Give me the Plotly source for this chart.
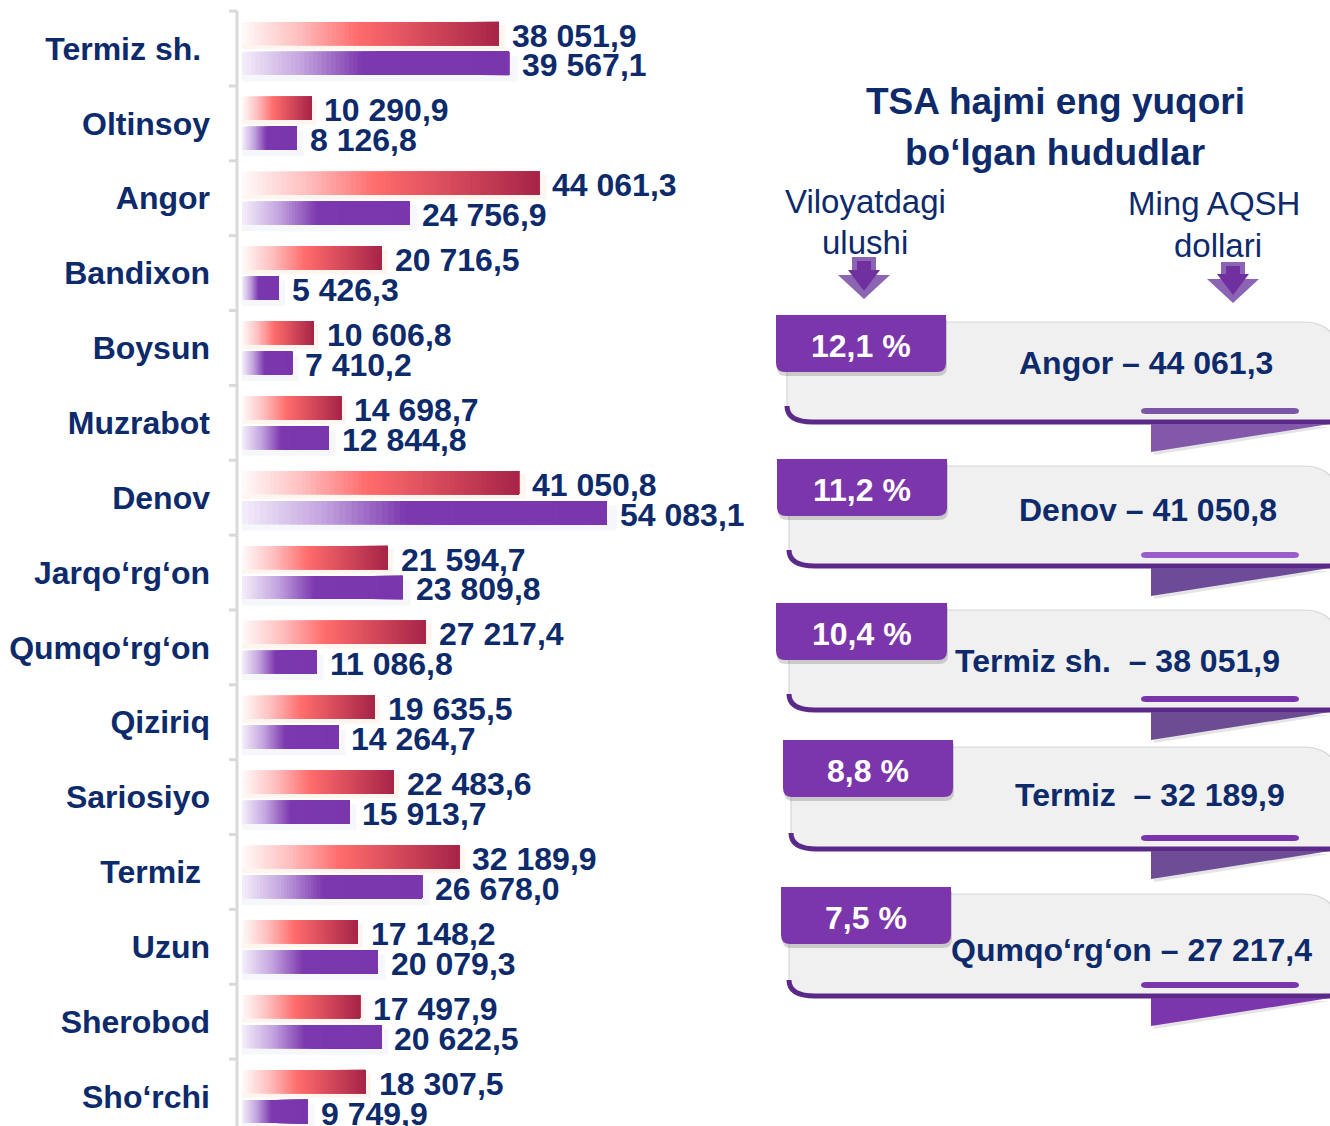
import plotly.graph_objects as go

# ---------------- data ----------------
categories = ["Termiz sh.\u00a0", "Oltinsoy", "Angor", "Bandixon", "Boysun", "Muzrabot", "Denov",
              "Jarqo‘rg‘on", "Qumqo‘rg‘on", "Qiziriq", "Sariosiyo", "Termiz\u00a0", "Uzun",
              "Sherobod", "Sho‘rchi"]
series_red = [38051.9, 10290.9, 44061.3, 20716.5, 10606.8, 14698.7, 41050.8, 21594.7,
              27217.4, 19635.5, 22483.6, 32189.9, 17148.2, 17497.9, 18307.5]
series_purple = [39567.1, 8126.8, 24756.9, 5426.3, 7410.2, 12844.8, 54083.1, 23809.8,
                 11086.8, 14264.7, 15913.7, 26678.0, 20079.3, 20622.5, 9749.9]

title_lines = ["TSA hajmi eng yuqori", "bo‘lgan hududlar"]
share_header = ["Viloyatdagi", "ulushi"]
value_header = ["Ming AQSH", "dollari"]
top_regions = ["Angor", "Denov", "Termiz sh.\u00a0", "Termiz\u00a0", "Qumqo‘rg‘on"]
top_values = [44061.3, 41050.8, 38051.9, 32189.9, 27217.4]
top_shares = [12.1, 11.2, 10.4, 8.8, 7.5]

# ---------------- style ----------------
NAVY = "#0d2a6b"
FONT = "Liberation Sans, Arial, sans-serif"
W, H = 1330, 1126

red_stops = [(0.0, (255, 250, 250)), (0.22, (255, 190, 190)), (0.45, (255, 108, 108)), (1.0, (166, 36, 72))]
pur_stops = [(0.0, (244, 238, 250)), (0.22, (196, 165, 224)), (0.45, (124, 56, 174)), (1.0, (122, 54, 172))]


def grad(stops, t):
    for (t0, c0), (t1, c1) in zip(stops[:-1], stops[1:]):
        if t <= t1:
            u = (t - t0) / (t1 - t0) if t1 > t0 else 0
            c = [round(a + (b - a) * u) for a, b in zip(c0, c1)]
            return "rgb(%d,%d,%d)" % tuple(c)
    return "rgb(%d,%d,%d)" % stops[-1][1]


def fmt(v):
    return f"{v:,.1f}".replace(",", " ").replace(".", ",")


fig = go.Figure()
n = len(categories)
pos = list(range(n))
y_red = [k - 0.2 for k in pos]
y_pur = [k + 0.2 for k in pos]
BW = 0.31

# soft shadows
fig.add_bar(x=[v * 1.01 + 600 for v in series_red], y=[y + 0.05 for y in y_red], orientation="h",
            width=BW + 0.02, marker=dict(color="rgba(250,210,180,0.22)", line_width=0),
            hoverinfo="skip", showlegend=False)
fig.add_bar(x=[v * 1.01 + 900 for v in series_purple], y=[y + 0.07 for y in y_pur], orientation="h",
            width=BW + 0.03, marker=dict(color="rgba(215,222,240,0.25)", line_width=0),
            hoverinfo="skip", showlegend=False)

# gradient bars built from overlapping segments
N = 60
for stops, vals, ys in ((red_stops, series_red, y_red), (pur_stops, series_purple, y_pur)):
    for j in range(N):
        f0 = j / N
        fig.add_bar(x=[v * (1 - f0) for v in vals], base=[v * f0 for v in vals], y=ys,
                    orientation="h", width=BW,
                    marker=dict(color=grad(stops, f0 + 0.5 / N), line_width=0),
                    hoverinfo="skip", showlegend=False)

# value labels
for vals, ys in ((series_red, y_red), (series_purple, y_pur)):
    for v, y in zip(vals, ys):
        fig.add_annotation(x=v, y=y, xref="x", yref="y", text=fmt(v), showarrow=False,
                           xanchor="left", yanchor="middle", xshift=11, yshift=-2,
                           font=dict(family=FONT, size=32, color=NAVY, weight="bold"))

# left axis line and boundary ticks
AX = 237
shapes = []
shapes.append(dict(type="line", xref="paper", yref="y", x0=AX / W, x1=AX / W, y0=-0.5, y1=n - 0.5 + 1,
                   line=dict(color="#d9d9d9", width=3), layer="below"))
for k in range(n + 1):
    shapes.append(dict(type="line", xref="paper", yref="y", x0=(AX - 8) / W, x1=AX / W,
                       y0=k - 0.5, y1=k - 0.5, line=dict(color="#d9d9d9", width=3), layer="below"))

# ---------------- right panel (pixel coordinate axes) ----------------
def P(d, **kw):
    s = dict(type="path", path=d, xref="x2", yref="y2", line=dict(width=0))
    s.update(kw)
    return s


def arrow(cx, t, b):
    outer = (f"M{cx-12},{t} L{cx+12},{t} L{cx+12},{b-24} L{cx+26},{b-24} L{cx},{b} "
             f"L{cx-26},{b-24} L{cx-12},{b-24} Z")
    inner = (f"M{cx-7},{t+4} L{cx+7},{t+4} L{cx+7},{b-29} L{cx+16},{b-29} L{cx},{b-8} "
             f"L{cx-16},{b-29} L{cx-7},{b-29} Z")
    return [P(outer, fillcolor="#8c64b4"), P(inner, fillcolor="#7030a0")]


shapes += arrow(864, 257, 299)
shapes += arrow(1233, 262, 303)

tab_top = [315, 459, 603, 740, 887]
tab_x = [(776, 946), (777, 947), (776, 947), (783, 953), (781, 951)]
card_left = [787, 789, 789, 791, 789]
card_bottom = [422, 566, 710, 849, 996]
text_cx = [1146, 1148, 1117, 1150, 1131]
text_cy = [363, 510, 661, 795, 950]
ul_col = ["#7d55a8", "#9b5ccb", "#7a35ad", "#7a35ad", "#7a35ad"]
tri_col = ["#8358aa", "#6e4b98", "#6d4c93", "#6f4d96", "#7b35ad"]
R = 1338

for i in range(len(top_regions)):
    tt = tab_top[i]
    tx0, tx1 = tab_x[i]
    cl = card_left[i]
    ct = tt + 7
    cb = card_bottom[i]
    body = (f"M{cl},{ct} L{R-35},{ct} Q{R},{ct} {R},{ct+35} L{R},{cb} L{cl+26},{cb} "
            f"Q{cl},{cb} {cl},{cb-16} Z")
    shapes.append(P(body, fillcolor="#f0f0f0", line=dict(color="#d6d6d6", width=1.2)))
    stroke = f"M{cl},{cb-16} Q{cl},{cb} {cl+26},{cb} L{R},{cb}"
    shapes.append(P(stroke, fillcolor="rgba(0,0,0,0)", line=dict(color="#5b2a88", width=5)))
    shapes.append(P(f"M1154,{cb+5} L1330,{cb+5} L1154,{cb+33} Z", fillcolor="rgba(0,0,0,0.10)"))
    shapes.append(P(f"M1151,{cb+2} L1330,{cb+2} L1151,{cb+30} Z", fillcolor=tri_col[i]))
    uy = cb - 11
    ul = (f"M1146,{uy-3} L1294,{uy-3} Q1299,{uy-3} 1299,{uy} Q1299,{uy+3} 1294,{uy+3} "
          f"L1146,{uy+3} Q1141,{uy+3} 1141,{uy} Q1141,{uy-3} 1146,{uy-3} Z")
    shapes.append(P(ul, fillcolor=ul_col[i]))
    tb = tt + 57

    def tab(dx, dy):
        a0, a1, t0, b0 = tx0 + dx, tx1 + dx, tt + dy, tb + dy
        return (f"M{a0},{t0} L{a1},{t0} L{a1},{b0-9} Q{a1},{b0} {a1-9},{b0} L{a0+9},{b0} "
                f"Q{a0},{b0} {a0},{b0-9} Z")
    shapes.append(P(tab(1, 4), fillcolor="rgba(0,0,0,0.16)"))
    shapes.append(P(tab(0, 0), fillcolor="#7b36ab"))

    share_txt = f"{top_shares[i]:.1f}".replace(".", ",") + " %"
    fig.add_annotation(x=(tx0 + tx1) / 2, y=tt + 31, xref="x2", yref="y2", text=share_txt,
                       showarrow=False, xanchor="center", yanchor="middle",
                       font=dict(family=FONT, size=32, color="white", weight="bold"))
    fig.add_annotation(x=text_cx[i], y=text_cy[i], xref="x2", yref="y2",
                       text=f"{top_regions[i]} – {fmt(top_values[i])}",
                       showarrow=False, xanchor="center", yanchor="middle",
                       font=dict(family=FONT, size=32, color=NAVY, weight="bold"))

for line, yy in zip(title_lines, [101, 152]):
    fig.add_annotation(x=1055, y=yy, xref="x2", yref="y2", text=line, showarrow=False,
                       xanchor="center", yanchor="middle",
                       font=dict(family=FONT, size=37, color=NAVY, weight="bold"))
for line, yy in zip(share_header, [201, 242]):
    fig.add_annotation(x=865, y=yy, xref="x2", yref="y2", text=line, showarrow=False,
                       xanchor="center", yanchor="middle",
                       font=dict(family=FONT, size=33, color=NAVY))
for line, xx, yy in zip(value_header, [1214, 1218], [203, 245]):
    fig.add_annotation(x=xx, y=yy, xref="x2", yref="y2", text=line, showarrow=False,
                       xanchor="center", yanchor="middle",
                       font=dict(family=FONT, size=33, color=NAVY))

fig.add_scatter(x=[0], y=[0], xaxis="x2", yaxis="y2", mode="markers",
                marker=dict(opacity=0), hoverinfo="skip", showlegend=False)

# ---------------- layout ----------------
scale = 365 / 54083.1  # px per unit
x_left = -5 / scale
x_right = (770 - AX) / scale + x_left
row = 74.86
y_top = -48.5 / row
y_bot = y_top + H / row

fig.update_layout(
    width=W, height=H, margin=dict(l=0, r=0, t=0, b=0),
    paper_bgcolor="white", plot_bgcolor="rgba(0,0,0,0)",
    barmode="overlay", showlegend=False,
    xaxis=dict(domain=[AX / W, 770 / W], range=[x_left, x_right], visible=False, fixedrange=True),
    yaxis=dict(domain=[0, 1], range=[y_bot, y_top], tickvals=pos, ticktext=categories,
               showgrid=False, zeroline=False, showline=False, ticks="", ticklabelstandoff=26,
               tickfont=dict(family=FONT, size=32, color=NAVY, weight="bold")),
    xaxis2=dict(domain=[0, 1], range=[0, W], visible=False, anchor="y2", fixedrange=True),
    yaxis2=dict(domain=[0, 1], range=[H, 0], visible=False, anchor="x2", fixedrange=True),
    shapes=shapes,
)

fig.write_html("out.html")
